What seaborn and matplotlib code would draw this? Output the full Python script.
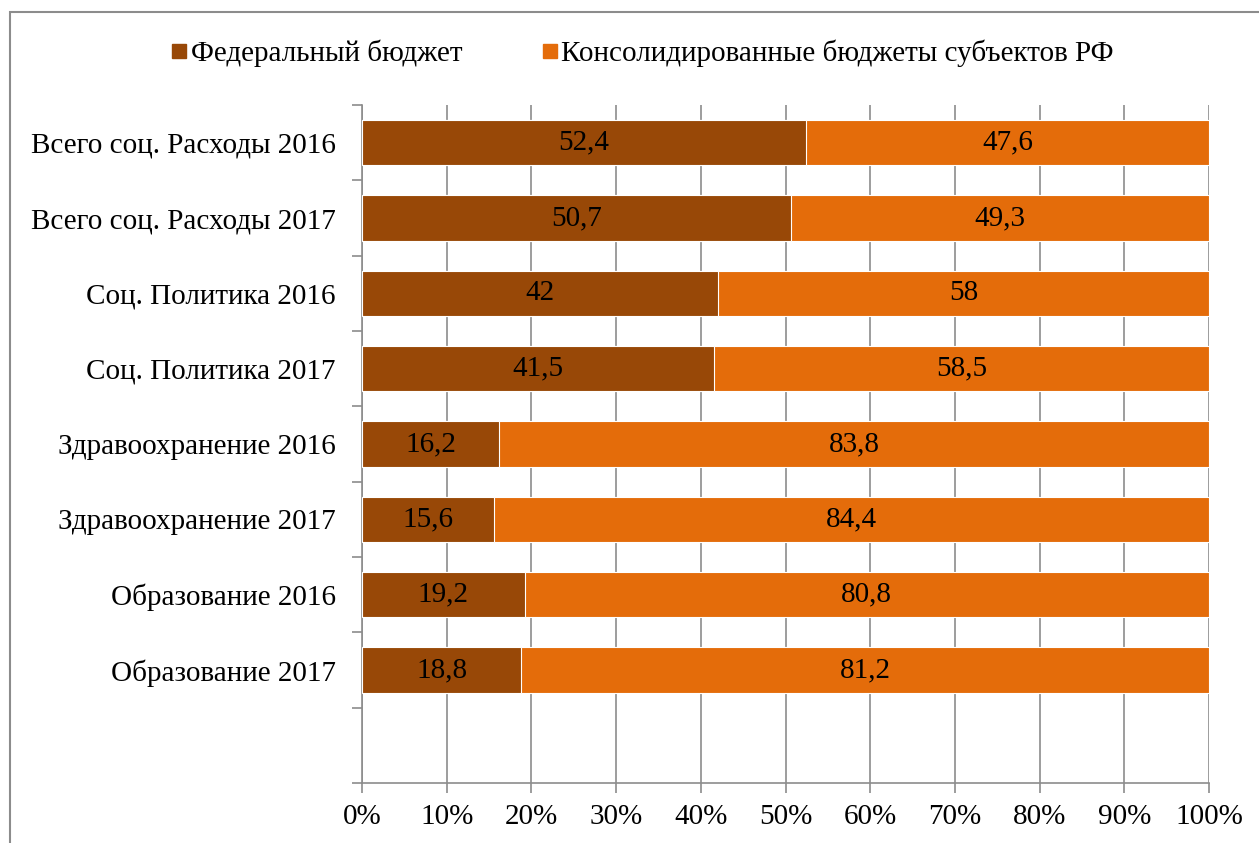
import matplotlib
matplotlib.use("Agg")
import matplotlib.pyplot as plt
import seaborn as sns
import pandas as pd
import numpy as np
from matplotlib.patches import Rectangle
from matplotlib.lines import Line2D

categories = ["Всего соц. Расходы 2016", "Всего соц. Расходы 2017",
              "Соц. Политика 2016", "Соц. Политика 2017",
              "Здравоохранение 2016", "Здравоохранение 2017",
              "Образование 2016", "Образование 2017"]
federal = [52.4, 50.7, 42, 41.5, 16.2, 15.6, 19.2, 18.8]
regional = [47.6, 49.3, 58, 58.5, 83.8, 84.4, 80.8, 81.2]
series_names = ["Федеральный бюджет", "Консолидированные бюджеты субъектов РФ"]
x_ticks = [0, 10, 20, 30, 40, 50, 60, 70, 80, 90, 100]

def fmt(v):
    s = f"{v:g}"
    return s.replace(".", ",")

c_fed = "#984807"
c_reg = "#E46C0A"
grid_c = "#8C8C8C"
FS = 21

sns.set_style("white")
plt.rcParams['font.family'] = ['Liberation Serif', 'DejaVu Serif']
plt.rcParams['text.color'] = 'black'
plt.rcParams['xtick.color'] = 'black'
plt.rcParams['ytick.color'] = 'black'

fig = plt.figure(figsize=(12.59, 8.43), dpi=100)
ax = fig.add_axes([362/1259, 1-783/843, (1209-362)/1259, (783-105)/843])

df = pd.DataFrame({"cat": categories, "fed": federal, "reg": regional})
df["total"] = df["fed"] + df["reg"]

sns.barplot(data=df, y="cat", x="total", color=c_reg, orient="h", width=0.6,
            ax=ax, saturation=1, edgecolor="white", linewidth=0.8, zorder=3)
sns.barplot(data=df, y="cat", x="fed", color=c_fed, orient="h", width=0.6,
            ax=ax, saturation=1, edgecolor="white", linewidth=0.8, zorder=3)

for i, (f, r) in enumerate(zip(federal, regional)):
    ax.text(f/2, i, fmt(f), ha="center", va="center", fontsize=FS, color="black", zorder=5)
    ax.text(f + r/2, i, fmt(r), ha="center", va="center", fontsize=FS, color="black", zorder=5)

ax.set_xlim(0, 100)
ax.set_ylim(8.5, -0.5)
ax.set_xticks(x_ticks)
ax.set_xticklabels([f"{t}%" for t in x_ticks], fontsize=FS)
ax.set_yticks(np.arange(-0.5, 9.0, 1.0))
ax.set_yticklabels([])
ax.set_yticks(range(len(categories)), minor=True)
ax.set_yticklabels(categories, minor=True, fontsize=FS)
ax.tick_params(axis="y", which="minor", length=0, pad=19, labelcolor="black")
ax.tick_params(axis="y", which="major", length=7, width=1.2, color=grid_c, direction="out", left=True)
ax.tick_params(axis="x", length=7, width=1.2, color=grid_c, direction="out", bottom=True, pad=8,
               labelcolor="black")
ax.set_xlabel("")
ax.set_ylabel("")
ax.xaxis.grid(True, color=grid_c, linewidth=1.2, zorder=0)
ax.set_axisbelow(True)
for s in ["top", "right"]:
    ax.spines[s].set_visible(False)
for s in ["left", "bottom"]:
    ax.spines[s].set_color(grid_c)
    ax.spines[s].set_linewidth(1.2)

handles = [Line2D([], [], marker="s", linestyle="none", markersize=9.5, color=c)
           for c in [c_fed, c_reg]]
leg = fig.legend(handles, series_names, loc="center", bbox_to_anchor=(0.510, 1-53/843),
                 ncol=2, frameon=False, fontsize=FS, handletextpad=0.1,
                 columnspacing=2.7, handlelength=0.6)
for t in leg.get_texts():
    t.set_color("black")

fig.patches.append(Rectangle((10/1259, -0.1), 1.2, 1 - 12/843 + 0.1,
                             transform=fig.transFigure, fill=False,
                             edgecolor="#8C8C8C", linewidth=1.5))

fig.savefig("out.png", dpi=100)
